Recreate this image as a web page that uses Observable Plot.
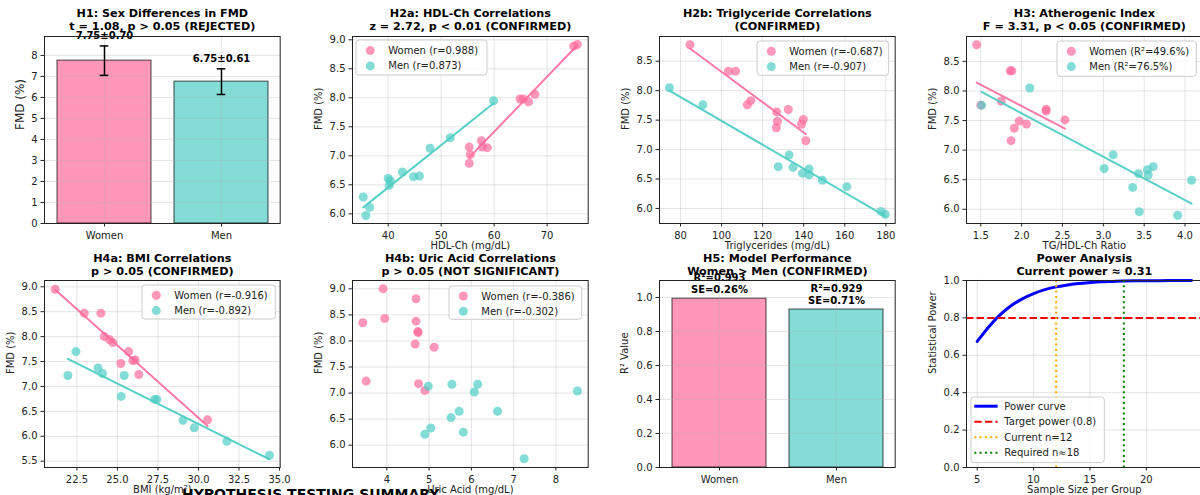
<!DOCTYPE html>
<html><head><meta charset="utf-8">
<script src="https://cdn.jsdelivr.net/npm/d3@7"></script>
<script src="https://cdn.jsdelivr.net/npm/@observablehq/plot@0.6"></script>
<style>
body{margin:0;background:#fff;}
#root{position:relative;width:1200px;height:495px;overflow:hidden;background:#fff;font-family:"DejaVu Sans";}
.panel{position:absolute;}
.panel svg{overflow:visible;max-width:none;}
.ov{position:absolute;overflow:visible;}
</style></head><body><div id="root"></div>
<script>
// ---------- data ----------
const sexes = ["Women", "Men"];
const fmdMean = [7.75, 6.75];
const fmdSem = [0.70, 0.61];
const h1Ticks = [0, 1, 2, 3, 4, 5, 6, 7, 8];

const hdlWomen = [75.7, 75.0, 64.9, 65.5, 66.5, 67.7, 55.3, 55.3, 55.5, 57.6, 57.8, 58.7];
const fmdHdlWomen = [8.92, 8.89, 7.98, 7.98, 7.93, 8.06, 7.15, 6.87, 7.02, 7.26, 7.15, 7.14];
const hdlMen = [59.9, 51.7, 47.9, 42.7, 44.8, 45.9, 40.0, 40.4, 40.2, 35.3, 36.5, 35.8];
const fmdHdlMen = [7.95, 7.31, 7.13, 6.72, 6.64, 6.65, 6.61, 6.57, 6.49, 6.29, 6.11, 5.97];
const hdlTicks = [40, 50, 60, 70];
const fmdTicksA = [6.0, 6.5, 7.0, 7.5, 8.0, 8.5, 9.0];

const tgWomen = [84.6, 103.3, 106.8, 112.5, 114.2, 126.8, 127.2, 126.7, 132.5, 139.8, 138.9, 141.0];
const fmdTgWomen = [8.78, 8.33, 8.33, 7.76, 7.83, 7.64, 7.48, 7.37, 7.68, 7.51, 7.43, 7.15];
const tgMen = [74.6, 90.9, 127.6, 132.9, 134.8, 139.4, 142.6, 142.6, 149.1, 161.0, 177.6, 179.7];
const fmdTgMen = [8.05, 7.76, 6.71, 6.91, 6.70, 6.60, 6.67, 6.57, 6.48, 6.37, 5.95, 5.90];
const tgTicks = [80, 100, 120, 140, 160, 180];
const fmdTicksB = [6.0, 6.5, 7.0, 7.5, 8.0, 8.5];

const ratioWomen = [1.45, 1.50, 1.75, 1.86, 1.88, 2.30, 2.30, 2.53, 1.97, 1.91, 2.06, 1.87];
const fmdRatioWomen = [8.78, 7.76, 7.83, 8.34, 8.34, 7.66, 7.69, 7.51, 7.49, 7.37, 7.44, 7.16];
const ratioMen = [1.51, 2.10, 3.01, 3.12, 3.36, 3.43, 3.44, 3.54, 3.55, 3.61, 3.91, 4.08];
const fmdRatioMen = [7.76, 8.05, 6.69, 6.92, 6.37, 6.60, 5.96, 6.67, 6.58, 6.72, 5.90, 6.49];
const ratioTicks = [1.5, 2.0, 2.5, 3.0, 3.5, 4.0];

const bmiWomen = [21.16, 22.95, 23.98, 24.19, 24.51, 24.72, 25.69, 25.21, 25.95, 26.10, 26.32, 30.56];
const fmdBmiWomen = [8.95, 8.47, 8.47, 8.00, 7.94, 7.88, 7.70, 7.46, 7.52, 7.53, 7.24, 6.33];
const bmiMen = [21.94, 22.44, 23.80, 24.08, 25.23, 25.42, 27.29, 27.43, 29.04, 29.74, 31.75, 34.38];
const fmdBmiMen = [7.22, 7.70, 7.37, 7.26, 6.80, 7.22, 6.74, 6.74, 6.32, 6.17, 5.90, 5.62];
const bmiTicks = [22.5, 25.0, 27.5, 30.0, 32.5, 35.0];
const fmdTicksC = [5.5, 6.0, 6.5, 7.0, 7.5, 8.0, 8.5, 9.0];

const uaWomen = [3.91, 4.69, 3.43, 3.95, 4.69, 4.73, 4.74, 4.67, 5.12, 3.51, 4.75, 4.90];
const fmdUaWomen = [9.00, 8.81, 8.35, 8.43, 8.38, 8.18, 8.16, 7.94, 7.88, 7.23, 7.18, 7.05];
const uaMen = [4.98, 5.54, 6.15, 6.07, 8.51, 5.71, 6.62, 5.52, 5.04, 4.90, 5.81, 7.25];
const fmdUaMen = [7.13, 7.17, 7.17, 7.02, 7.04, 6.65, 6.65, 6.53, 6.33, 6.21, 6.25, 5.74];
const uaTicks = [4, 5, 6, 7, 8];

const r2Values = [0.993, 0.929];
const seValues = [0.26, 0.71];
const r2Ticks = [0.0, 0.2, 0.4, 0.6, 0.8, 1.0];

const powerN = [5, 6, 7, 8, 9, 10, 11, 12, 13, 14, 15, 16, 17, 18, 19, 20, 21, 22, 23, 24];
const powerValues = [0.674, 0.750, 0.815, 0.865, 0.902, 0.930, 0.951, 0.966, 0.976, 0.984, 0.989, 0.993, 0.995, 0.997, 0.998, 0.9985, 0.999, 0.9994, 0.9996, 0.9998];
const targetPower = [0.8];
const currentN = [12];
const requiredN = [18];
const nTicks = [5, 10, 15, 20];
const powerTicks = [0.0, 0.2, 0.4, 0.6, 0.8, 1.0];

// ---------- layout ----------
const root = document.getElementById("root");
const pink = "#FF6B9D", teal = "#4ECDC4";
const FW = 235.7, FH = 187, ML = 50, MR = 12, MT = 36, MB = 34;
const colLeft = [44.3, 351.7, 658.7, 965.7];
const rowTop = [36, 280];
const titleDy = [-6.7, -5.7];
const gridStyle = {stroke: "#b0b0b0", strokeOpacity: 0.35};
const fmt1 = d3.format(".1f");

function place(plot, col, row) {
  const div = document.createElement("div");
  div.className = "panel";
  div.style.left = (colLeft[col] - ML) + "px";
  div.style.top = (rowTop[row] - MT) + "px";
  div.appendChild(plot);
  root.appendChild(div);
}
function dims() {
  return {
    width: ML + FW + MR, height: MT + FH + MB,
    marginLeft: ML, marginRight: MR, marginTop: MT, marginBottom: MB,
    style: {fontFamily: "DejaVu Sans", fontSize: "10px", color: "#222", background: "transparent", overflow: "visible"}
  };
}
const titleMark = (t, row) => Plot.text([t], {text: d => d, frameAnchor: "top", dy: titleDy[row], lineAnchor: "bottom", fontWeight: "bold", fontSize: 11.2, lineHeight: 1.14, fill: "#000"});
const xLabelMark = t => Plot.text([t], {text: d => d, frameAnchor: "bottom", dy: 26, fontSize: 10});
const yLabelMark = (t, dx = -34, fs = 10) => Plot.text([t], {text: d => d, frameAnchor: "left", dx, rotate: -90, fontSize: fs});
const frameMark = () => Plot.frame({stroke: "#222", strokeWidth: 1});
const axX = (ticks, tickFormat) => Plot.axisX({ticks, tickFormat, tickSize: 3.5, tickPadding: 5, label: null});
const axY = (ticks, tickFormat) => Plot.axisY({ticks, tickFormat, tickSize: 3.5, tickPadding: 3.5, label: null});

function scatterPanel(cfg) {
  const women = cfg.wx.map((x, i) => ({x, y: cfg.wy[i]}));
  const men = cfg.mx.map((x, i) => ({x, y: cfg.my[i]}));
  const marks = [
    Plot.gridX({ticks: cfg.xTicks, ...gridStyle}),
    Plot.gridY({ticks: cfg.yTicks, ...gridStyle}),
    Plot.dot(women, {x: "x", y: "y", r: 4.5, fill: pink, fillOpacity: 0.7}),
  ];
  if (cfg.fit) marks.push(Plot.linearRegressionY(women, {x: "x", y: "y", stroke: pink, strokeWidth: 2, strokeOpacity: 0.9, ci: 0}));
  marks.push(Plot.dot(men, {x: "x", y: "y", r: 4.5, fill: teal, fillOpacity: 0.7}));
  if (cfg.fit) marks.push(Plot.linearRegressionY(men, {x: "x", y: "y", stroke: teal, strokeWidth: 2, strokeOpacity: 0.95, ci: 0}));
  marks.push(frameMark(), axX(cfg.xTicks, cfg.xFmt), axY(cfg.yTicks, fmt1),
    titleMark(cfg.title, cfg.row), xLabelMark(cfg.xLabel), yLabelMark("FMD (%)"));
  place(Plot.plot({...dims(), x: {domain: cfg.xDomain}, y: {domain: cfg.yDomain}, marks}), cfg.col, cfg.row);
}

// H1
const h1 = sexes.map((s, i) => ({sex: s, mean: fmdMean[i], sem: fmdSem[i]}));
place(Plot.plot({
  ...dims(),
  x: {domain: sexes, paddingInner: 0.2, paddingOuter: 0.1},
  y: {domain: [0, 8.9]},
  color: {domain: sexes, range: [pink, teal]},
  marks: [
    Plot.barY(h1, {x: "sex", y: "mean", fill: "sex", fillOpacity: 0.7, stroke: "#000", strokeOpacity: 0.6, strokeWidth: 1.2}),
    Plot.gridX({...gridStyle}),
    Plot.gridY({ticks: h1Ticks, ...gridStyle}),
    Plot.ruleX(h1, {x: "sex", y1: d => d.mean - d.sem, y2: d => d.mean + d.sem, stroke: "#000", strokeWidth: 1.5}),
    Plot.tickY(h1, {x: "sex", y: d => d.mean + d.sem, insetLeft: 42.7, insetRight: 42.7, stroke: "#000", strokeWidth: 1.5}),
    Plot.tickY(h1, {x: "sex", y: d => d.mean - d.sem, insetLeft: 42.7, insetRight: 42.7, stroke: "#000", strokeWidth: 1.5}),
    Plot.text(h1, {x: "sex", y: d => d.mean + d.sem, text: d => `${d.mean.toFixed(2)}±${d.sem.toFixed(2)}`, dy: -7, lineAnchor: "bottom", fontWeight: "bold", fontSize: 10, fill: "#000"}),
    frameMark(),
    Plot.axisX({tickSize: 3.5, tickPadding: 5, label: null}),
    axY(h1Ticks, d3.format("d")),
    titleMark("H1: Sex Differences in FMD\nt = 1.08, p > 0.05 (REJECTED)", 0),
    yLabelMark("FMD (%)", -24.7, 12)
  ]
}), 0, 0);

scatterPanel({col: 1, row: 0, title: "H2a: HDL-Ch Correlations\nz = 2.72, p < 0.01 (CONFIRMED)", xLabel: "HDL-Ch (mg/dL)",
  xDomain: [33.27, 77.75], yDomain: [5.833, 9.057], xTicks: hdlTicks, yTicks: fmdTicksA, xFmt: d3.format("d"),
  wx: hdlWomen, wy: fmdHdlWomen, mx: hdlMen, my: fmdHdlMen, fit: true});
scatterPanel({col: 2, row: 0, title: "H2b: Triglyceride Correlations\n(CONFIRMED)", xLabel: "Triglycerides (mg/dL)",
  xDomain: [69.76, 184.55], yDomain: [5.745, 8.92], xTicks: tgTicks, yTicks: fmdTicksB, xFmt: d3.format("d"),
  wx: tgWomen, wy: fmdTgWomen, mx: tgMen, my: fmdTgMen, fit: true});
scatterPanel({col: 3, row: 0, title: "H3: Atherogenic Index\nF = 3.31, p < 0.05 (CONFIRMED)", xLabel: "TG/HDL-Ch Ratio",
  xDomain: [1.325, 4.21], yDomain: [5.76, 8.92], xTicks: ratioTicks, yTicks: fmdTicksB, xFmt: fmt1,
  wx: ratioWomen, wy: fmdRatioWomen, mx: ratioMen, my: fmdRatioMen, fit: true});
scatterPanel({col: 0, row: 1, title: "H4a: BMI Correlations\np > 0.05 (CONFIRMED)", xLabel: "BMI (kg/m²)",
  xDomain: [20.5, 35.04], yDomain: [5.374, 9.126], xTicks: bmiTicks, yTicks: fmdTicksC, xFmt: fmt1,
  wx: bmiWomen, wy: fmdBmiWomen, mx: bmiMen, my: fmdBmiMen, fit: true});
scatterPanel({col: 1, row: 1, title: "H4b: Uric Acid Correlations\np > 0.05 (NOT SIGNIFICANT)", xLabel: "Uric Acid (mg/dL)",
  xDomain: [3.187, 8.765], yDomain: [5.572, 9.16], xTicks: uaTicks, yTicks: fmdTicksA, xFmt: d3.format("d"),
  wx: uaWomen, wy: fmdUaWomen, mx: uaMen, my: fmdUaMen, fit: false});

// H5
const h5 = sexes.map((s, i) => ({sex: s, r2: r2Values[i], se: seValues[i]}));
place(Plot.plot({
  ...dims(),
  x: {domain: sexes, paddingInner: 0.2, paddingOuter: 0.1},
  y: {domain: [0, 1.1]},
  color: {domain: sexes, range: [pink, teal]},
  marks: [
    Plot.barY(h5, {x: "sex", y: "r2", fill: "sex", fillOpacity: 0.7, stroke: "#000", strokeOpacity: 0.6, strokeWidth: 1.2}),
    Plot.gridX({...gridStyle}),
    Plot.gridY({ticks: r2Ticks, ...gridStyle}),
    Plot.text(h5, {x: "sex", y: "r2", text: d => `R²=${d.r2.toFixed(3)}\nSE=${d.se.toFixed(2)}%`, dy: -5.5, lineAnchor: "bottom", lineHeight: 1.2, fontWeight: "bold", fontSize: 10, fill: "#000"}),
    frameMark(),
    Plot.axisX({tickSize: 3.5, tickPadding: 5, label: null}),
    axY(r2Ticks, fmt1),
    titleMark("H5: Model Performance\nWomen > Men (CONFIRMED)", 1),
    yLabelMark("R² Value", -35)
  ]
}), 2, 1);

// Power
const power = powerN.map((n, i) => ({n, p: powerValues[i]}));
place(Plot.plot({
  ...dims(),
  x: {domain: [4.05, 24.95]},
  y: {domain: [0, 1]},
  marks: [
    Plot.gridX({ticks: nTicks, ...gridStyle}),
    Plot.gridY({ticks: powerTicks, ...gridStyle}),
    Plot.line(power, {x: "n", y: "p", stroke: "#0000ff", strokeWidth: 3, curve: "monotone-x"}),
    Plot.ruleY(targetPower, {stroke: "#ff0000", strokeWidth: 2, strokeDasharray: "7.4,3.2"}),
    Plot.ruleX(currentN, {stroke: "#ffa500", strokeWidth: 2, strokeDasharray: "2,3.3"}),
    Plot.ruleX(requiredN, {stroke: "#008000", strokeWidth: 2, strokeDasharray: "2,3.3"}),
    frameMark(),
    axX(nTicks, d3.format("d")),
    axY(powerTicks, fmt1),
    titleMark("Power Analysis\nCurrent power ≈ 0.31", 1),
    xLabelMark("Sample Size per Group"),
    yLabelMark("Statistical Power", -34)
  ]
}), 3, 1);

// ---------- legends ----------
function legend(x, y, w, h, items, first, step, kind) {
  const svg = d3.select(root).append("svg").attr("class", "ov")
    .attr("width", w + 2).attr("height", h + 2)
    .style("left", (x - 1) + "px").style("top", (y - 1) + "px");
  svg.append("rect").attr("x", 1).attr("y", 1).attr("width", w).attr("height", h).attr("rx", 3)
    .attr("fill", "#fff").attr("fill-opacity", 0.8).attr("stroke", "#cccccc");
  items.forEach((it, i) => {
    const cy = 1 + first + i * step;
    if (kind === "dot") {
      svg.append("circle").attr("cx", 1 + 14.3).attr("cy", cy).attr("r", 4.5).attr("fill", it.color).attr("fill-opacity", 0.7);
    } else {
      svg.append("line").attr("x1", 1 + 3.3).attr("x2", 1 + 26.6).attr("y1", cy).attr("y2", cy)
        .attr("stroke", it.color).attr("stroke-width", it.w).attr("stroke-dasharray", it.dash || null);
    }
    svg.append("text").attr("x", 1 + (kind === "dot" ? 32.3 : 33.3)).attr("y", cy).attr("dy", "0.35em")
      .attr("font-family", "DejaVu Sans").attr("font-size", 10).attr("fill", "#222").text(it.label);
  });
}
const dotItems = (a, b) => [{color: pink, label: a}, {color: teal, label: b}];
legend(356, 40, 131, 35, dotItems("Women (r=0.988)", "Men (r=0.873)"), 10.6, 15.3, "dot");
legend(756.7, 40.7, 131.6, 34.3, dotItems("Women (r=-0.687)", "Men (r=-0.907)"), 10.3, 15.3, "dot");
legend(1056.7, 40.7, 139.3, 35.3, dotItems("Women (R²=49.6%)", "Men (R²=76.5%)"), 10.3, 15.3, "dot");
legend(141.7, 285, 133.3, 34, dotItems("Women (r=-0.916)", "Men (r=-0.892)"), 10.3, 15.3, "dot");
legend(449, 285.7, 132.7, 33.3, dotItems("Women (r=-0.386)", "Men (r=-0.302)"), 10.0, 15.3, "dot");
legend(970.7, 396.7, 133.3, 65.6, [
  {color: "#0000ff", w: 3, label: "Power curve"},
  {color: "#ff0000", w: 2, dash: "7.4,3.2", label: "Target power (0.8)"},
  {color: "#ffa500", w: 2, dash: "2,3.3", label: "Current n=12"},
  {color: "#008000", w: 2, dash: "2,3.3", label: "Required n≈18"}
], 9.2, 15.5, "line");

// ---------- summary caption ----------
const cap = d3.select(root).append("svg").attr("class", "ov").attr("width", 1200).attr("height", 495)
  .style("left", "0px").style("top", "0px").style("pointer-events", "none");
cap.append("text").attr("x", 182).attr("y", 498.5).attr("font-family", "DejaVu Sans").attr("font-weight", "bold")
  .attr("font-size", 14).attr("fill", "#000").text("HYPOTHESIS TESTING SUMMARY");
</script>
</body></html>
